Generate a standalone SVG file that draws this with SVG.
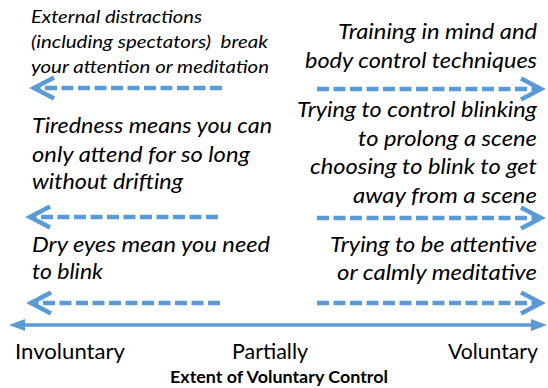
<svg xmlns="http://www.w3.org/2000/svg" width="548" height="388" viewBox="0 0 548 388">
  <style>
    .it { font-family: Lato, "Liberation Sans", sans-serif; font-style: italic; fill: #000; }
    .lg { font-size: 22px; }
    .sm { font-size: 18px; }
    .r { text-anchor: end; }
    .ax { font-family: Lato, "Liberation Sans", sans-serif; font-size: 22px; fill: #000; }
    .title { font-family: Lato, "Liberation Sans", sans-serif; font-size: 17px; font-weight: bold; fill: #000; }
    .dash { stroke: #5B9BD5; stroke-width: 4.5; stroke-dasharray: 12 4.5; fill: none; marker-end: url(#chev); }
    .axis { stroke: #5B9BD5; stroke-width: 3.5; fill: none; marker-start: url(#tri); marker-end: url(#tri); }
  </style>
  <defs>
    <marker id="chev" markerUnits="userSpaceOnUse" markerWidth="30" markerHeight="30" viewBox="-26 -15 30 30" refX="0" refY="0" orient="auto" overflow="visible">
      <path d="M-20,-10.5 L0,0 L-20,10.5" fill="none" stroke="#5B9BD5" stroke-width="4.5" stroke-linejoin="miter"/>
    </marker>
    <marker id="tri" markerUnits="userSpaceOnUse" markerWidth="20" markerHeight="20" viewBox="-6 -8 20 16" refX="0" refY="0" orient="auto-start-reverse" overflow="visible">
      <path d="M-4,-6 L12,0 L-4,6 z" fill="#5B9BD5"/>
    </marker>
  </defs>

  <g id="connectors">
    <line class="dash" x1="222" y1="88" x2="34" y2="88"/>
    <line class="dash" x1="317" y1="89" x2="541" y2="89"/>
    <line class="dash" x1="218" y1="217" x2="30" y2="217"/>
    <line class="dash" x1="317" y1="218" x2="541" y2="218"/>
    <line class="dash" x1="220" y1="303" x2="31" y2="303"/>
    <line class="dash" x1="317" y1="303" x2="541" y2="303"/>
    <line class="axis" x1="21" y1="325" x2="535" y2="325"/>
  </g>

  <g id="external-distractions">
    <text class="it sm" x="31" y="23" textLength="171" lengthAdjust="spacingAndGlyphs">External distractions</text>
    <text class="it sm" x="31" y="48" textLength="237" lengthAdjust="spacingAndGlyphs" xml:space="preserve">(including spectators)  break</text>
    <text class="it sm" x="31" y="73" textLength="238" lengthAdjust="spacingAndGlyphs">your attention or meditation</text>
  </g>

  <g id="training">
    <text class="it lg r" x="537" y="39" textLength="199" lengthAdjust="spacingAndGlyphs">Training in mind and</text>
    <text class="it lg r" x="537" y="68" textLength="232" lengthAdjust="spacingAndGlyphs">body control techniques</text>
  </g>

  <g id="tiredness">
    <text class="it lg" x="32" y="133" textLength="240" lengthAdjust="spacingAndGlyphs">Tiredness means you can</text>
    <text class="it lg" x="32" y="162" textLength="218" lengthAdjust="spacingAndGlyphs">only attend for so long</text>
    <text class="it lg" x="32" y="189" textLength="151" lengthAdjust="spacingAndGlyphs">without drifting</text>
  </g>

  <g id="control-blinking">
    <text class="it lg r" x="537" y="117" textLength="240" lengthAdjust="spacingAndGlyphs">Trying to control blinking</text>
    <text class="it lg r" x="537" y="146" textLength="179" lengthAdjust="spacingAndGlyphs">to prolong a scene</text>
    <text class="it lg r" x="537" y="174" textLength="227" lengthAdjust="spacingAndGlyphs">choosing to blink to get</text>
    <text class="it lg r" x="537" y="203" textLength="184" lengthAdjust="spacingAndGlyphs">away from a scene</text>
  </g>

  <g id="dry-eyes">
    <text class="it lg" x="32" y="252" textLength="238" lengthAdjust="spacingAndGlyphs">Dry eyes mean you need</text>
    <text class="it lg" x="32" y="279" textLength="71" lengthAdjust="spacingAndGlyphs">to blink</text>
  </g>

  <g id="attentive">
    <text class="it lg r" x="537" y="252" textLength="207" lengthAdjust="spacingAndGlyphs">Trying to be attentive</text>
    <text class="it lg r" x="537" y="280" textLength="200" lengthAdjust="spacingAndGlyphs">or calmly meditative</text>
  </g>

  <g id="axis-labels">
    <text class="ax" x="15" y="359" textLength="110" lengthAdjust="spacingAndGlyphs">Involuntary</text>
    <text class="ax" x="232" y="359" textLength="76" lengthAdjust="spacingAndGlyphs">Partially</text>
    <text class="ax" x="448" y="359" textLength="90" lengthAdjust="spacingAndGlyphs">Voluntary</text>
    <text class="title" x="170" y="383" textLength="218" lengthAdjust="spacingAndGlyphs">Extent of Voluntary Control</text>
  </g>
</svg>
